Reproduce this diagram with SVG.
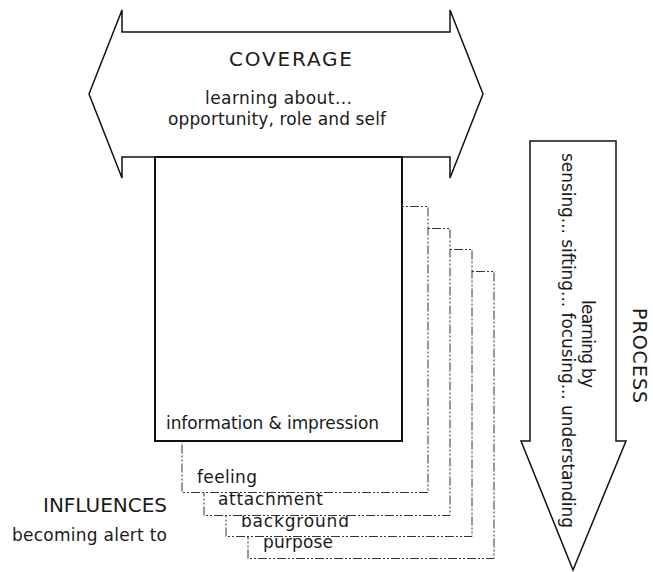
<svg xmlns="http://www.w3.org/2000/svg" width="653" height="572" viewBox="0 0 653 572">
<style>
  text { font-family: "DejaVu Sans", "Liberation Sans", sans-serif; fill: #1a1a1a; }
  .body { font-size: 17px; }
  .title { font-size: 20px; }
  .arrow { fill: #fff; stroke: #111; stroke-width: 1.5; stroke-linejoin: miter; }
  .main { fill: #fff; stroke: #111; stroke-width: 2; }
  .sheet { fill: #fff; stroke: #333; stroke-width: 1; stroke-dasharray: 9 2 2 2 2 2; }
</style>
<rect x="0" y="0" width="653" height="572" fill="#fff"/>

<g id="coverage">
  <polygon class="arrow" points="89,94 122,10 122,32 450,32 450,10 483,94 450,178 450,157 122,157 122,178"/>
  <text class="title" x="229" y="66" textLength="123">COVERAGE</text>
  <text class="body" x="205" y="104" textLength="147">learning about...</text>
  <text class="body" x="168" y="125" textLength="218">opportunity, role and self</text>
</g>

<g id="process">
  <polygon class="arrow" points="530,141 616,141 616,441 626,441 573,570 521,441 530,441"/>
  <text class="body" transform="translate(582,300) rotate(90)" textLength="88">learning by</text>
  <text class="body" transform="translate(562,153) rotate(90)" textLength="375">sensing... sifting... focusing... understanding</text>
  <text class="title" style="font-size:19px" transform="translate(633,308) rotate(90)" textLength="95">PROCESS</text>
</g>

<g id="purpose">
  <rect class="sheet" x="248" y="271.5" width="246" height="287"/>
  <text class="body" x="263" y="548" textLength="70">purpose</text>
</g>
<g id="background">
  <rect class="sheet" x="226" y="249.5" width="246" height="287"/>
  <text class="body" x="241" y="527" textLength="108">background</text>
</g>
<g id="attachment">
  <rect class="sheet" x="204" y="228.5" width="246" height="287"/>
  <text class="body" x="218" y="505" textLength="105">attachment</text>
</g>
<g id="feeling">
  <rect class="sheet" x="182" y="206.5" width="246" height="286"/>
  <text class="body" x="197" y="483" textLength="60">feeling</text>
</g>

<g id="information">
  <rect class="main" x="155" y="157" width="247" height="284"/>
  <text class="body" x="166" y="429" textLength="213">information &amp; impression</text>
</g>

<g id="influences">
  <text class="title" x="43" y="512" textLength="124">INFLUENCES</text>
  <text class="body" x="12" y="541" textLength="155">becoming alert to</text>
</g>

<g id="connectors"></g>
</svg>
